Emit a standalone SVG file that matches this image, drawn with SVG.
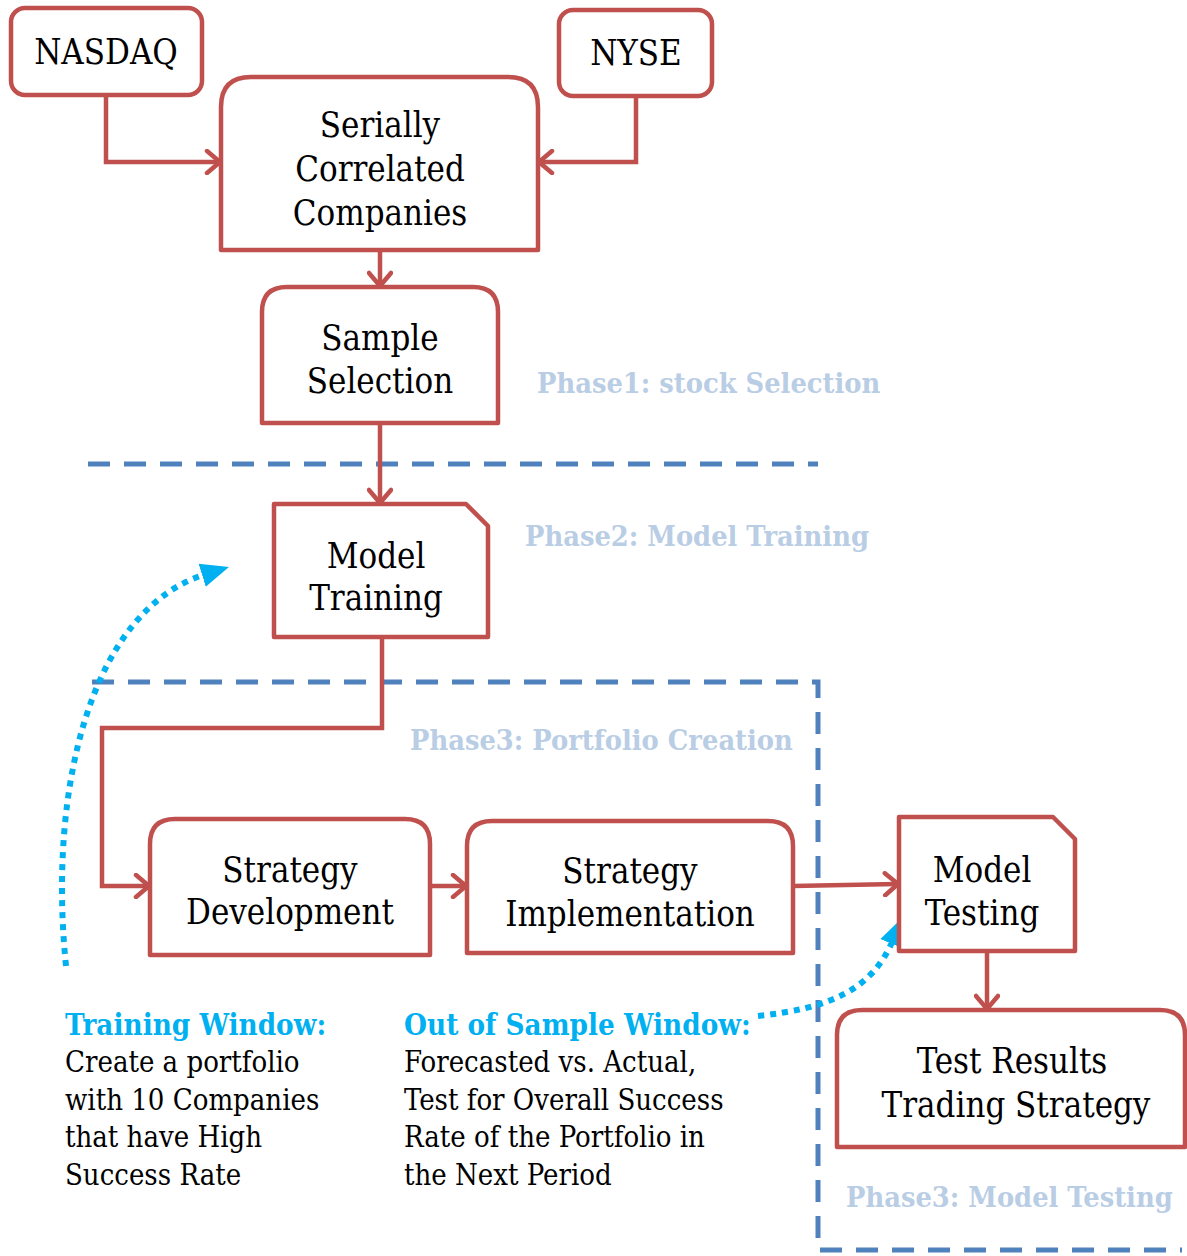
<svg xmlns="http://www.w3.org/2000/svg" width="1187" height="1256" viewBox="0 0 1187 1256">
<style>
.box{fill:#fff;stroke:#C0504D;stroke-width:4.5;stroke-linejoin:round}
.lbl{font-family:"DejaVu Serif Condensed","DejaVu Serif","Liberation Serif",serif;font-size:34.5px;fill:#000;text-anchor:middle}
.con{fill:none;stroke:#C0504D;stroke-width:4.5}
.phase{fill:none;stroke:#4F81BD;stroke-width:5;stroke-dasharray:22 14}
.ph{font-family:"DejaVu Serif Condensed","DejaVu Serif","Liberation Serif",serif;font-size:28.7px;font-weight:bold;fill:#B9CDE5}
.dot{fill:none;stroke:#00B0F0;stroke-width:6;stroke-dasharray:6 6}
.hd{font-family:"DejaVu Serif Condensed","DejaVu Serif","Liberation Serif",serif;font-size:29.3px;font-weight:bold;fill:#00B0F0}
.bd{font-family:"DejaVu Serif Condensed","DejaVu Serif","Liberation Serif",serif;font-size:29px;fill:#000}
</style>
<defs>
<marker id="ah" markerUnits="userSpaceOnUse" markerWidth="22" markerHeight="26" refX="15" refY="13" orient="auto" viewBox="0 0 22 26">
<path d="M3,2 L16,13 L3,24" fill="none" stroke="#C0504D" stroke-width="4.5" stroke-linecap="round" stroke-linejoin="round"/>
</marker>
<marker id="bh" markerUnits="userSpaceOnUse" markerWidth="28" markerHeight="28" refX="4" refY="14" orient="auto" viewBox="0 0 28 28">
<path d="M0,2 L28,14 L0,26 Z" fill="#00B0F0"/>
</marker>
</defs>
<g id="phases">
<line class="phase" x1="88" y1="464" x2="818" y2="464"/>
<polyline class="phase" points="92,682 818,682 818,1250 1182,1250"/>
</g>
<g id="connectors">
<polyline class="con" points="106,95 106,162 219,162" marker-end="url(#ah)"/>
<polyline class="con" points="636,96 636,162 540,162" marker-end="url(#ah)"/>
<line class="con" x1="380" y1="250" x2="380" y2="285" marker-end="url(#ah)"/>
<line class="con" x1="380" y1="423" x2="380" y2="502" marker-end="url(#ah)"/>
<polyline class="con" points="382,637 382,728 102,728 102,886 148,886" marker-end="url(#ah)"/>
<line class="con" x1="430" y1="886" x2="465" y2="886" marker-end="url(#ah)"/>
<line class="con" x1="793" y1="886" x2="897" y2="884" marker-end="url(#ah)"/>
<line class="con" x1="987" y1="951" x2="987" y2="1008" marker-end="url(#ah)"/>
<path class="dot" d="M66,966 C48,790 90,610 206,574" marker-end="url(#bh)"/>
<path class="dot" d="M758,1016 C830,1008 872,990 893,940" marker-end="url(#bh)"/>
</g>
<g id="nasdaq"><rect class="box" x="11" y="8" width="191" height="87" rx="14"/><text class="lbl" x="106" y="64">NASDAQ</text></g>
<g id="nyse"><rect class="box" x="559" y="10" width="153" height="86" rx="14"/><text class="lbl" x="636" y="65">NYSE</text></g>
<g id="serially"><path class="box" d="M221,250 L221,107 Q221,77 251,77 L508,77 Q538,77 538,107 L538,250 Z"/><text class="lbl" x="380" y="137">Serially</text><text class="lbl" x="380" y="181">Correlated</text><text class="lbl" x="380" y="225">Companies</text></g>
<g id="sample"><path class="box" d="M262,423 L262,312 Q262,287 287,287 L473,287 Q498,287 498,312 L498,423 Z"/><text class="lbl" x="380" y="350">Sample</text><text class="lbl" x="380" y="393">Selection</text></g>
<g id="training"><path class="box" d="M274,504 L466,504 L488,526 L488,637 L274,637 Z"/><text class="lbl" x="376" y="568">Model</text><text class="lbl" x="376" y="610">Training</text></g>
<g id="dev"><path class="box" d="M150,955 L150,844 Q150,819 175,819 L405,819 Q430,819 430,844 L430,955 Z"/><text class="lbl" x="290" y="882">Strategy</text><text class="lbl" x="290" y="924">Development</text></g>
<g id="impl"><path class="box" d="M467,953 L467,846 Q467,821 492,821 L768,821 Q793,821 793,846 L793,953 Z"/><text class="lbl" x="630" y="883">Strategy</text><text class="lbl" x="630" y="926">Implementation</text></g>
<g id="testing"><path class="box" d="M899,817 L1053,817 L1075,839 L1075,951 L899,951 Z"/><text class="lbl" x="982" y="882">Model</text><text class="lbl" x="982" y="925">Testing</text></g>
<g id="results"><path class="box" d="M837,1147 L837,1035 Q837,1010 862,1010 L1160,1010 Q1185,1010 1185,1035 L1185,1147 Z"/><text class="lbl" x="1012" y="1073">Test Results</text><text class="lbl" x="1016" y="1117">Trading Strategy</text></g>
<g id="labels">
<text class="ph" x="537" y="393">Phase1: stock Selection</text>
<text class="ph" x="525" y="546">Phase2: Model Training</text>
<text class="ph" x="410" y="750">Phase3: Portfolio Creation</text>
<text class="ph" x="846" y="1207">Phase3: Model Testing</text>
<text class="hd" x="65" y="1035">Training Window:</text>
<text class="bd" x="65" y="1072">Create a portfolio</text>
<text class="bd" x="65" y="1110">with 10 Companies</text>
<text class="bd" x="65" y="1147">that have High</text>
<text class="bd" x="65" y="1185">Success Rate</text>
<text class="hd" x="404" y="1035">Out of Sample Window:</text>
<text class="bd" x="404" y="1072">Forecasted vs. Actual,</text>
<text class="bd" x="404" y="1110">Test for Overall Success</text>
<text class="bd" x="404" y="1147">Rate of the Portfolio in</text>
<text class="bd" x="404" y="1185">the Next Period</text>
</g>
</svg>
